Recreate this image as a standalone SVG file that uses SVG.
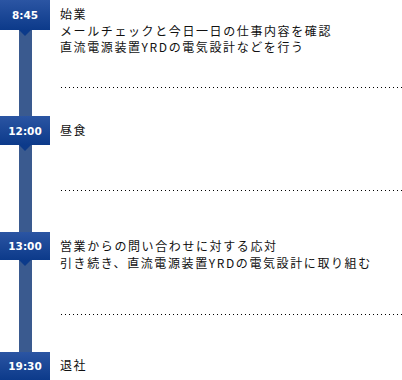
<svg xmlns="http://www.w3.org/2000/svg" width="402" height="380" viewBox="0 0 402 380">
<defs>
<linearGradient id="g" x1="0" y1="0" x2="0" y2="1">
<stop offset="0" stop-color="#2b55a3"/>
<stop offset="1" stop-color="#0c3a8a"/>
</linearGradient>
<style>
.time{fill:#fff;font-family:"DejaVu Sans",Verdana,sans-serif;font-weight:bold;font-size:10.5px;text-anchor:middle}
.txt{fill:#111;font-family:"Noto Sans CJK JP","Liberation Sans",sans-serif;font-size:12px;letter-spacing:1.6px}
.dot{stroke:#000;stroke-width:1;stroke-dasharray:1 3}
.box{fill:url(#g)}
.tri{fill:#0c3a8a}
</style>
</defs>
<g id="connectors">
<rect x="19" y="0" width="13" height="356" fill="#3a5a8f"/>
<line class="dot" x1="61" y1="87.5" x2="402" y2="87.5"/>
<line class="dot" x1="61" y1="190.5" x2="402" y2="190.5"/>
<line class="dot" x1="61" y1="314.5" x2="402" y2="314.5"/>
</g>
<g id="t0845">
<rect class="box" x="0" y="0" width="50" height="30"/>
<polygon class="tri" points="19,30 31,30 25,36"/>
<text class="time" x="25" y="19">8:45</text>
</g>
<g id="e0845">
<text class="txt" x="60" y="19">始業</text>
<text class="txt" x="60" y="36">メールチェックと今日一日の仕事内容を確認</text>
<text class="txt" x="60" y="52">直流電源装置YRDの電気設計などを行う</text>
</g>
<g id="t1200">
<rect class="box" x="0" y="116" width="50" height="29"/>
<polygon class="tri" points="19,145 31,145 25,151"/>
<text class="time" x="25" y="135">12:00</text>
</g>
<g id="e1200">
<text class="txt" x="60" y="135">昼食</text>
</g>
<g id="t1300">
<rect class="box" x="0" y="232" width="50" height="28"/>
<polygon class="tri" points="19,260 31,260 25,266"/>
<text class="time" x="25" y="250">13:00</text>
</g>
<g id="e1300">
<text class="txt" x="60" y="251">営業からの問い合わせに対する応対</text>
<text class="txt" x="60" y="268">引き続き、直流電源装置YRDの電気設計に取り組む</text>
</g>
<g id="t1930">
<rect class="box" x="0" y="352" width="50" height="28"/>
<text class="time" x="25" y="370">19:30</text>
</g>
<g id="e1930">
<text class="txt" x="60" y="370">退社</text>
</g>
</svg>
